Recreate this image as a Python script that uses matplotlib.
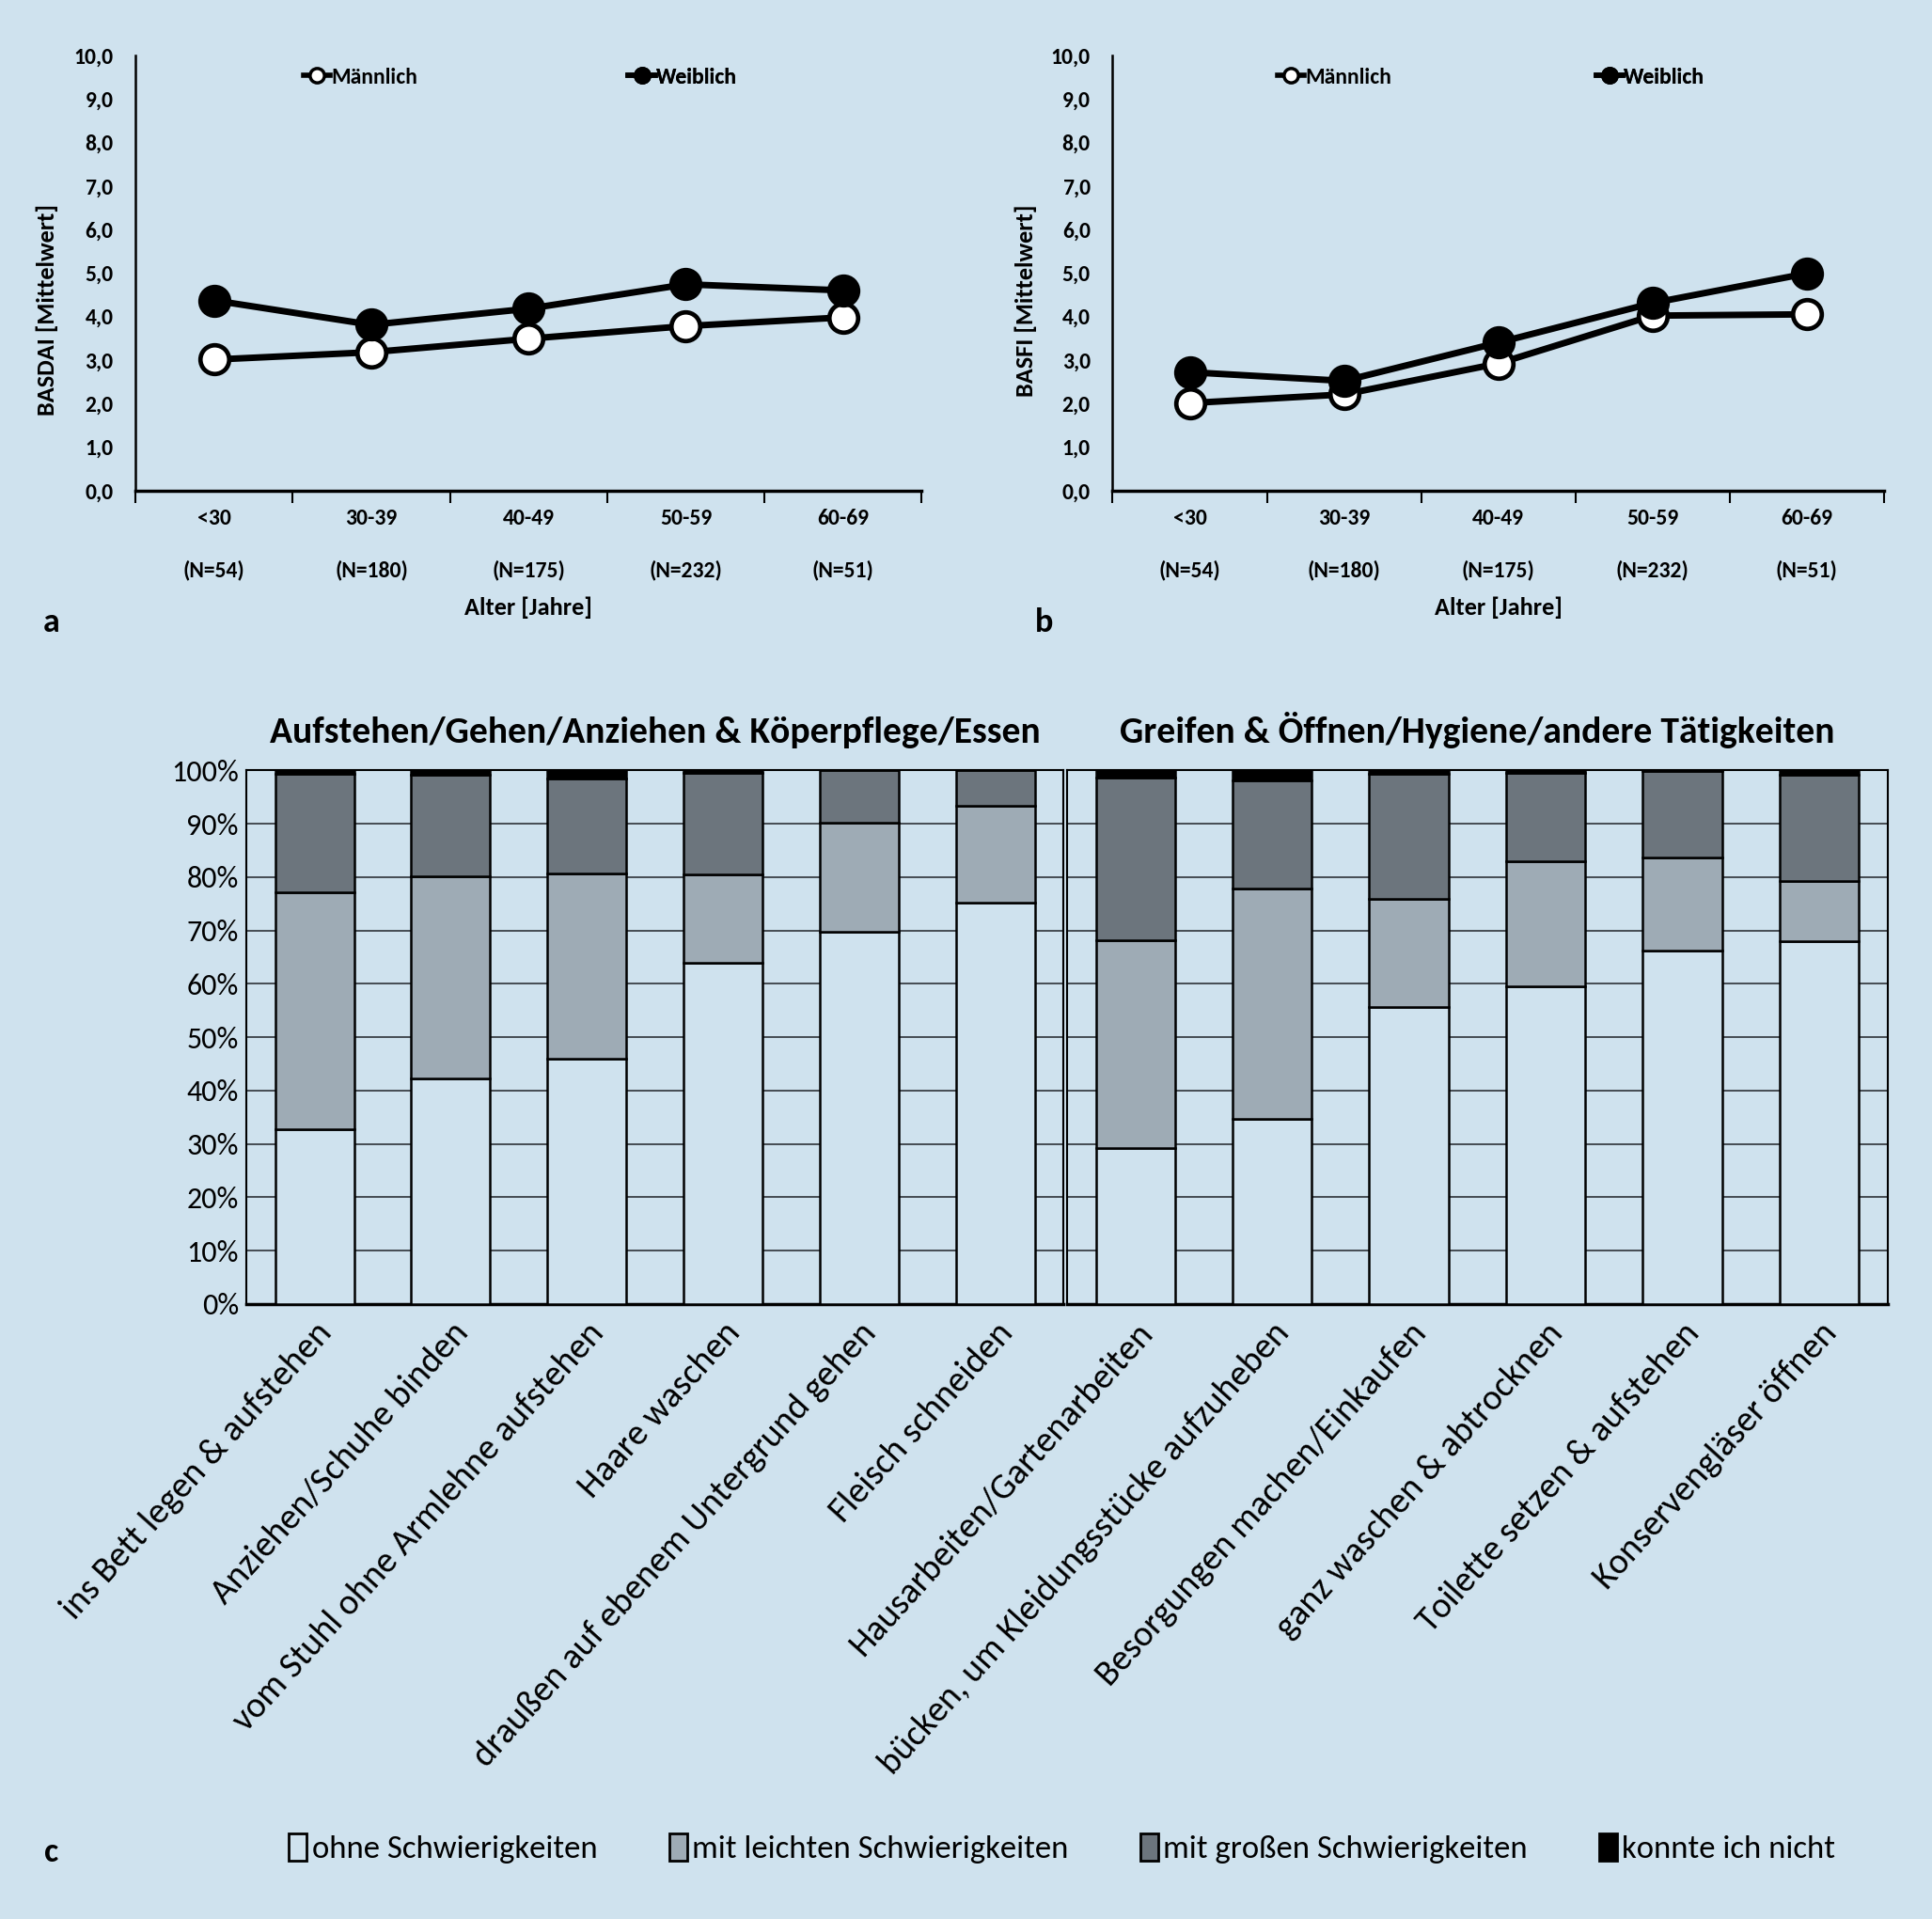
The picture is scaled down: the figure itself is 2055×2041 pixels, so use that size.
import numpy as np
import matplotlib
matplotlib.use("Agg")
import matplotlib.pyplot as plt
from matplotlib.lines import Line2D
from matplotlib.patches import Patch

# --- data -------------------------------------------------------------
age_groups = ["<30", "30-39", "40-49", "50-59", "60-69"]
age_n = ["(N=54)", "(N=180)", "(N=175)", "(N=232)", "(N=51)"]
basdai_m = [3.01, 3.18, 3.49, 3.78, 3.98]
basdai_w = [4.37, 3.81, 4.18, 4.74, 4.60]
basfi_m = [2.01, 2.21, 2.92, 4.02, 4.05]
basfi_w = [2.72, 2.52, 3.40, 4.31, 4.99]

acts_left = ["ins Bett legen & aufstehen", "Anziehen/Schuhe binden",
             "vom Stuhl ohne Armlehne aufstehen", "Haare waschen",
             "draußen auf ebenem Untergrund gehen", "Fleisch schneiden"]
acts_right = ["Hausarbeiten/Gartenarbeiten", "bücken, um Kleidungsstücke aufzuheben",
              "Besorgungen machen/Einkaufen", "ganz waschen & abtrocknen",
              "Toilette setzen & aufstehen", "Konservengläser öffnen"]
ohne_l = [32.8, 42.3, 46.0, 63.9, 69.8, 75.2]
leicht_l = [44.3, 37.8, 34.7, 16.6, 20.3, 18.2]
gross_l = [22.3, 19.0, 17.8, 19.1, 9.9, 6.6]
nicht_l = [0.6, 0.9, 1.5, 0.4, 0.0, 0.0]
ohne_r = [29.3, 34.7, 55.6, 59.5, 66.2, 68.0]
leicht_r = [38.9, 43.2, 20.4, 23.4, 17.5, 11.3]
gross_r = [30.5, 20.2, 23.4, 16.6, 16.1, 19.8]
nicht_r = [1.3, 1.9, 0.6, 0.5, 0.2, 0.9]
levels = ["ohne Schwierigkeiten", "mit leichten Schwierigkeiten",
          "mit großen Schwierigkeiten", "konnte ich nicht"]

BG = "#cfe2ee"
level_colors = [BG, "#9eabb5", "#6c757d", "black"]

plt.rcParams["font.family"] = ["Carlito", "DejaVu Sans"]

W, H = 1568, 1557  # reference grid used for placement


def rect(x0, y0, x1, y1):
    return [x0 / W, 1 - y1 / H, (x1 - x0) / W, (y1 - y0) / H]


fig = plt.figure(figsize=(20.55, 20.41), dpi=100, facecolor=BG)
FS_LINE = 17


def line_panel(box, men, women, ylabel, ylab_y):
    ax = fig.add_axes(rect(*box))
    ax.set_facecolor(BG)
    x = np.arange(len(age_groups))
    ax.plot(x, men, color="black", lw=5, marker="o", ms=22, mfc="white",
            mec="black", mew=3.4, zorder=3)
    ax.plot(x, women, color="black", lw=5, marker="o", ms=22, mfc="black",
            mec="black", mew=3.4, zorder=4)
    ax.set_xlim(-0.5, len(age_groups) - 0.5)
    ax.set_ylim(0, 10)
    ax.set_yticks(np.arange(0, 11, 1))
    ax.set_yticklabels([f"{v:.1f}".replace(".", ",") for v in range(11)],
                       fontsize=FS_LINE, fontweight="bold")
    ax.tick_params(axis="y", length=0, pad=17)
    ax.set_xticks(np.arange(-0.5, len(age_groups)))
    ax.set_xticklabels([])
    ax.set_xticks(x, minor=True)
    ax.set_xticklabels([f"{a}\n{n}" for a, n in zip(age_groups, age_n)],
                       minor=True, fontsize=FS_LINE, fontweight="bold", linespacing=2.9)
    ax.tick_params(axis="x", which="major", length=9, width=1.5, direction="out")
    ax.tick_params(axis="x", which="minor", length=0, pad=14)
    for s in ["top", "right"]:
        ax.spines[s].set_visible(False)
    ax.spines["left"].set_linewidth(1.8)
    ax.spines["bottom"].set_linewidth(2.5)
    ax.set_ylabel(ylabel, fontsize=FS_LINE + 2, fontweight="bold")
    ax.yaxis.set_label_coords(-0.098, ylab_y)
    ax.set_xlabel("Alter [Jahre]", fontsize=FS_LINE + 2, fontweight="bold")
    ax.xaxis.set_label_coords(0.5, -0.243)
    hm = Line2D([], [], color="black", lw=4, marker="o", ms=11, mfc="white",
                mec="black", mew=2.5)
    hw = Line2D([], [], color="black", lw=4, marker="o", ms=11, mfc="black",
                mec="black", mew=2.5)
    for h, lab, xa in [(hm, "Männlich", 0.214), (hw, "Weiblich", 0.627)]:
        leg = ax.legend([h], [lab], loc="center left", bbox_to_anchor=(xa, 0.95),
                        frameon=False, handlelength=1.2, handletextpad=0.05,
                        borderpad=0, borderaxespad=0,
                        prop={"size": FS_LINE, "weight": "bold"})
        ax.add_artist(leg)
    return ax


line_panel((110, 45, 748, 398), basdai_m, basdai_w, "BASDAI [Mittelwert]", 0.415)
line_panel((903, 45, 1529, 398), basfi_m, basfi_w, "BASFI [Mittelwert]", 0.436)


def bar_panel(box, labels, parts, title, show_y):
    ax = fig.add_axes(rect(*box))
    ax.set_facecolor(BG)
    x = np.arange(len(labels))
    bottom = np.zeros(len(labels))
    for vals, col in zip(parts, level_colors):
        ax.bar(x, vals, 0.58, bottom=bottom, color=col, edgecolor="black",
               lw=1.8, zorder=3)
        bottom += np.array(vals)
    ax.set_xlim(-0.5, len(labels) - 0.5)
    ax.set_ylim(0, 100)
    ax.set_yticks(np.arange(0, 101, 10))
    if show_y:
        ax.set_yticklabels([f"{v}%" for v in range(0, 101, 10)], fontsize=23)
    else:
        ax.set_yticklabels([])
    ax.tick_params(axis="y", length=0, pad=6)
    ax.yaxis.grid(True, color="#454b52", lw=1.4, zorder=0)
    ax.set_axisbelow(True)
    ax.set_xticks(x)
    ax.set_xticklabels(labels, rotation=48, ha="right", va="top",
                       rotation_mode="anchor", fontsize=27.5)
    ax.tick_params(axis="x", length=0, pad=10)
    for s in ax.spines.values():
        s.set_linewidth(1.5)
    ax.spines["bottom"].set_linewidth(2.5)
    ax.set_title(title, fontsize=28.5, fontweight="bold", pad=21)
    return ax


bar_panel((200, 625, 863, 1058), acts_left, [ohne_l, leicht_l, gross_l, nicht_l],
          "Aufstehen/Gehen/Anziehen & Köperpflege/Essen", True)
bar_panel((866, 625, 1532, 1058), acts_right, [ohne_r, leicht_r, gross_r, nicht_r],
          "Greifen & Öffnen/Hygiene/andere Tätigkeiten", False)

handles = [Patch(facecolor=c, edgecolor="black", lw=2) for c in level_colors]
fig.legend(handles, levels, loc="center", bbox_to_anchor=(862 / W, 1 - 1500 / H),
           ncol=4, frameon=False, fontsize=25, handlelength=0.55, handleheight=0.9,
           handletextpad=0.15, columnspacing=2.2)

for letter, (lx, ly) in {"a": (42, 505), "b": (847, 505), "c": (42, 1503)}.items():
    fig.text(lx / W, 1 - ly / H, letter, fontsize=26, fontweight="bold",
             ha="center", va="center")

fig.savefig("out.png", dpi=100, facecolor=BG)
